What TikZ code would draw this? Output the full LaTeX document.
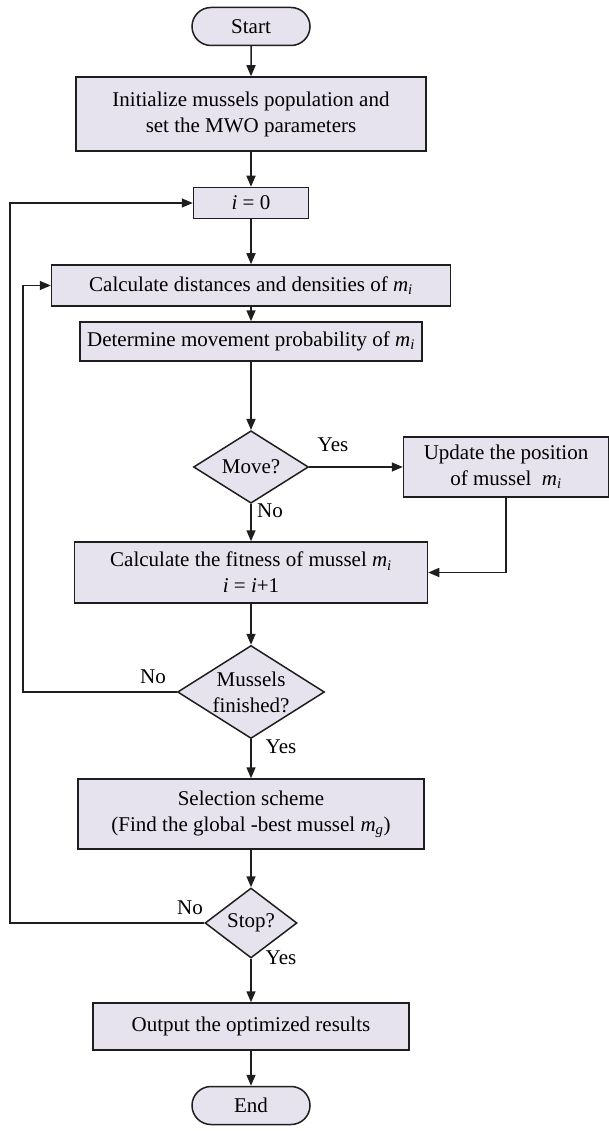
\documentclass[tikz,border=0pt]{standalone}
\usepackage{fontspec}
\setmainfont{Liberation Serif}
\usetikzlibrary{arrows.meta, shapes.geometric, shapes.misc, positioning}
\definecolor{paleviolet}{HTML}{E6E3EF}
\definecolor{inkgray}{HTML}{1E1E1E}
\newcommand{\musm}[1]{\textit{m}\textsubscript{\textit{#1}}}
\tikzset{
  process box/.style={rectangle, fill=paleviolet, draw=inkgray, line width=1.5pt, align=center, inner sep=0pt},
  terminal/.style={rounded rectangle, fill=paleviolet, draw=inkgray, line width=1.5pt, minimum width=118pt, minimum height=38pt, inner sep=0pt},
  decision/.style={diamond, fill=paleviolet, draw=inkgray, line width=1.5pt, align=center, inner sep=0pt},
  flow line/.style={line width=1.5pt, draw=inkgray, -{Triangle[length=11pt, width=9pt]}},
  branch label/.style={inner sep=0pt}
}

\begin{document}
\begin{tikzpicture}[x=1pt, y=-1pt, font=\fontsize{21}{26}\selectfont]
  \useasboundingbox (0,0) rectangle (609,1131);

  % --- Main column ---
  \node[terminal] (start) at (251,26.5) {Start};
  \node[process box, minimum width=350pt, minimum height=74pt] (init) at (251,114)
    {Initialize mussels population and\\set the MWO parameters};
  \node[process box, minimum width=115pt, minimum height=31pt] (reset) at (251,203) {\textit{i} = 0};
  \node[process box, minimum width=399pt, minimum height=41pt] (dist) at (251,285.5)
    {Calculate distances and densities of \musm{i}};
  \node[process box, minimum width=342pt, minimum height=39pt] (prob) at (251,341.5)
    {Determine movement probability of \musm{i}};
  \node[decision, minimum width=115pt, minimum height=67pt] (move) at (251,467) {Move?};
  \node[process box, minimum width=205pt, minimum height=60pt] (update) at (506,467)
    {Update the position\\of mussel~ \musm{i}};
  \node[process box, minimum width=353pt, minimum height=61pt] (fitness) at (251,572.5)
    {Calculate the fitness of mussel \musm{i}\\\textit{i} = \textit{i}+1};
  \node[decision, aspect=1.6, minimum width=147pt, minimum height=93pt] (done) at (251,692)
    {Mussels\\finished?};
  \node[process box, minimum width=346pt, minimum height=70pt] (select) at (251,814)
    {Selection scheme\\(Find the global -best mussel \musm{g})};
  \node[decision, minimum width=92pt, minimum height=70pt] (stop) at (251,923) {Stop?};
  \node[process box, minimum width=316pt, minimum height=47pt] (output) at (251,1026.5)
    {Output the optimized results};
  \node[terminal] (end) at (251,1105.5) {End};

  % --- Branch labels ---
  \node[branch label] (moveyes) at (333,445) {Yes};
  \node[branch label] (moveno) at (270,511) {No};
  \node[branch label] (doneno) at (153,677) {No};
  \node[branch label] (doneyes) at (281,747) {Yes};
  \node[branch label] (stopno) at (190,908) {No};
  \node[branch label] (stopyes) at (281,958) {Yes};

  % --- Loop corners ---
  \coordinate (outer loop) at (10,923);
  \coordinate (inner loop) at (23,692);

  % --- Connectors ---
  \draw[flow line] (start) -- (init);
  \draw[flow line] (init) -- (reset);
  \draw[flow line] (reset) -- (dist);
  \draw[flow line] (dist) -- (prob);
  \draw[flow line] (prob) -- (move);
  \draw[flow line] (move) -- (update);
  \draw[flow line] (move) -- (fitness);
  \draw[flow line] (update.south) |- (fitness.east);
  \draw[flow line] (fitness) -- (done);
  \draw[flow line] (done) -- (select);
  \draw[flow line] (done.west) -- (inner loop) |- (dist.west);
  \draw[flow line] (select) -- (stop);
  \draw[flow line] (stop.west) -- (outer loop) |- (reset.west);
  \draw[flow line] (stop) -- (output);
  \draw[flow line] (output) -- (end);
\end{tikzpicture}
\end{document}
